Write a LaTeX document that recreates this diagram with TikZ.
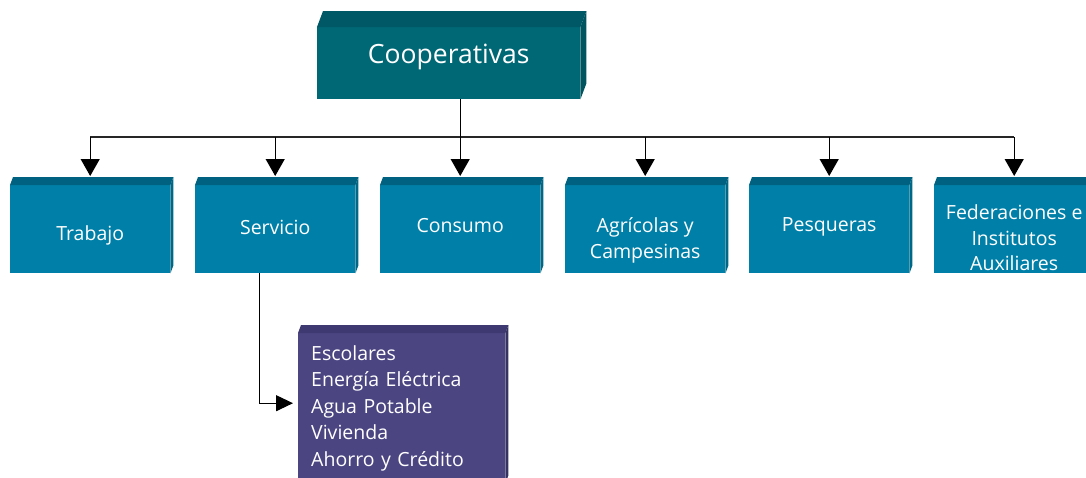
\documentclass[tikz,border=0pt]{standalone}
\usepackage{fontspec}
\setmainfont{Open Sans}
\usetikzlibrary{arrows.meta,calc}

\definecolor{coopfront}{RGB}{0,104,117}
\definecolor{cooptop}{RGB}{0,88,102}
\definecolor{coopside}{RGB}{0,84,96}
\definecolor{rowfront}{RGB}{0,128,168}
\definecolor{rowtop}{RGB}{0,98,128}
\definecolor{rowside}{RGB}{0,104,134}
\definecolor{subfront}{RGB}{75,69,130}
\definecolor{subtop}{RGB}{62,57,112}
\definecolor{subside}{RGB}{54,50,98}

\tikzset{
rowbox/.style={fill=rowfront, text=white, minimum width=160pt, minimum height=88pt,
  inner sep=0pt, anchor=north west, align=center, font=\fontsize{19.5}{25.5}\selectfont},
arr/.style={line width=1.1pt, -{Triangle[length=17pt,width=19pt]}},
bus/.style={line width=1.1pt, draw=black!85}}

% top and right faces of a box node: node, top colour, side colour, depth
\newcommand{\boxfaces}[4]{%
\fill[#2] (#1.north west) -- ++(#4) -- ($(#1.north east)+(#4)$) -- (#1.north east) -- cycle;
\fill[#3] (#1.north east) -- ($(#1.north east)+(#4)$) -- ($(#1.south east)+(#4)$) -- (#1.south east) -- cycle;}
% text raised inside a box, size kept
\newcommand{\lift}[2]{\raisebox{#1}[\height][\depth]{#2}}
\newcommand{\lines}[2]{\lift{#1}{\begin{tabular}{@{}c@{}}#2\end{tabular}}}

\begin{document}
\begin{tikzpicture}[x=1pt,y=1pt,yscale=-1,xscale=1]
\useasboundingbox (0,0) rectangle (1086,477);

%Shape: top box
\node (coop) [fill=coopfront, text=white, minimum width=263pt, minimum height=72pt, inner sep=0pt,
  anchor=north west, font=\fontsize{26.5}{30}\selectfont] at (317,27) {\lift{6pt}{Cooperativas}};
\boxfaces{coop}{cooptop}{coopside}{6,-16}

%Shape: second row
\node (trab) [rowbox] at (10,185)  {\lift{-6pt}{Trabajo}};
\node (serv) [rowbox] at (195,185) {\lift{2pt}{Servicio}};
\node (cons) [rowbox] at (380,185) {\lift{4pt}{Consumo}};
\node (agri) [rowbox] at (565,185) {\lines{-11pt}{Agrícolas y\\Campesinas}};
\node (pesq) [rowbox] at (749,185) {\lift{2pt}{Pesqueras}};
\node (fed)  [rowbox] at (934,185) {\lines{-11pt}{Federaciones e\\Institutos\\Auxiliares}};
\foreach \n in {trab,serv,cons,agri,pesq,fed}
  \boxfaces{\n}{rowtop}{rowside}{3,-8};

%Shape: list of services
\node (sub) [fill=subfront, text=white, minimum width=207pt, minimum height=150pt, inner xsep=13pt,
  inner ysep=0pt, text width=181pt, anchor=north west, align=left,
  font=\fontsize{19.5}{26.5}\selectfont] at (298,333)
  {Escolares\\Energía Eléctrica\\Agua Potable\\Vivienda\\Ahorro y Crédito};
\boxfaces{sub}{subtop}{subside}{3,-8}

% Connectors
\coordinate (bus) at (455,137);
\draw [bus] (bus -| trab.north) -- (bus -| fed.north);
\draw [arr, shorten >=9pt] (coop.south -| cons.north) -- (cons.north);
\foreach \n in {trab,serv,agri,pesq,fed}
  \draw [arr, shorten >=9pt] (bus -| \n.north) -- (\n.north);
\draw [arr, -{Triangle[length=17pt,width=16pt]}, shorten >=5pt] ($(serv.south)+(-16,0)$) |- ($(sub.west)+(0,-5)$);

\end{tikzpicture}
\end{document}
